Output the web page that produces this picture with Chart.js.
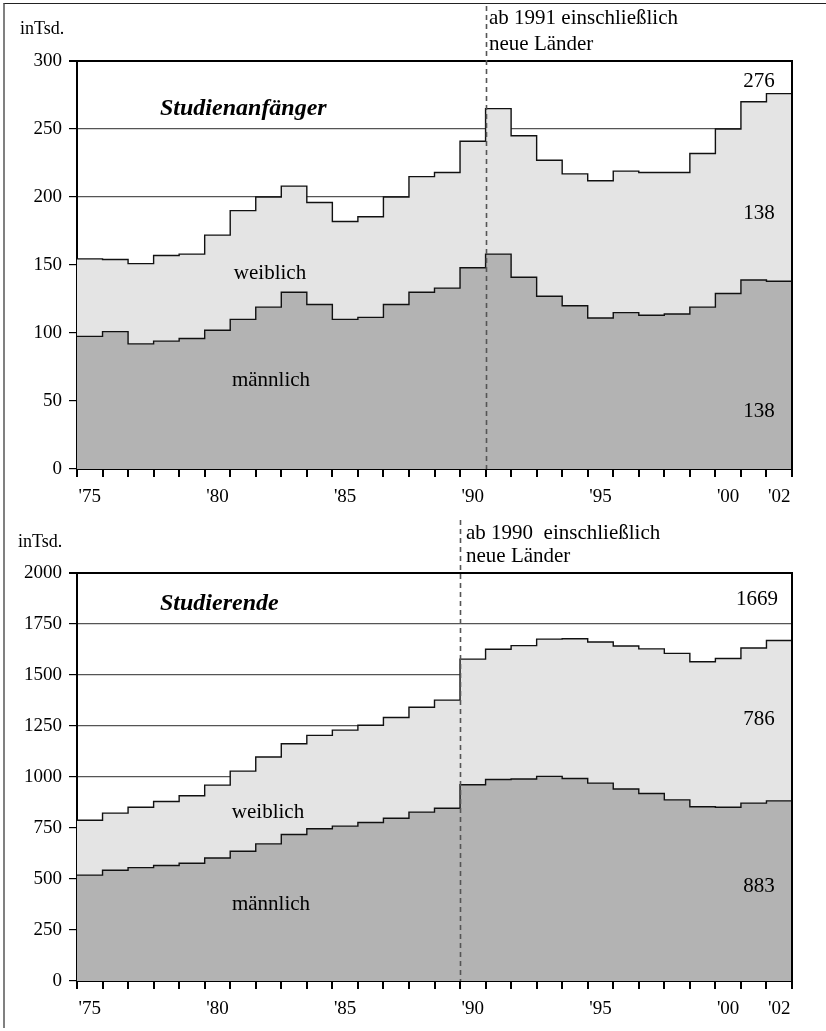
<!DOCTYPE html>
<html>
<head>
<meta charset="utf-8">
<script src="https://cdn.jsdelivr.net/npm/chart.js@4"></script>
<style>
  html, body { margin: 0; padding: 0; background: #fff; }
  #page { position: relative; width: 826px; height: 1031px; overflow: hidden; background: #fff;
          font-family: 'Liberation Serif', 'Times New Roman', 'DejaVu Serif', serif; color: #000; }
  .panel { position: absolute; left: 0; width: 826px; }
  .t { position: absolute; white-space: pre; line-height: 1; }
  #frame { position: absolute; left: 3px; top: 3px; width: 830px; height: 1024px;
           border-left: 2px solid #808080; border-top: 1px solid #222; pointer-events: none; }
</style>
</head>
<body>
<div id="page">
  <div class="panel" style="top:0;height:515px"><canvas id="c1"></canvas></div>
  <div class="panel" style="top:515px;height:516px"><canvas id="c2"></canvas></div>
  <div id="frame"></div>
</div>
<script>
// ---------- data ----------
const years = [1975,1976,1977,1978,1979,1980,1981,1982,1983,1984,1985,1986,1987,1988,1989,
               1990,1991,1992,1993,1994,1995,1996,1997,1998,1999,2000,2001,2002];
const xTickLabels = ["'75","","","","","'80","","","","","'85","","","","","'90","","","","","'95","","","","","'00","","'02"];

// Studienanfänger (in Tsd.)
const anfaengerMaennlich = [97.5,101,92,94,96,102,110,119,130,121,110,111.5,121,130,133,148,158,141,127,120,111,115,113,114,119,129,139,138];
const anfaengerWeiblich  = [57,53,59,63,62,70,80,81,78,75,72,74,79,85,85,93,107,104,100,97,101,104,105,104,113,121,131,138];
const yTicksAnfaenger = [0,50,100,150,200,250,300];

// Studierende (in Tsd.)
const studMaennlich = [519,543,556,566,577,603,636,672,718,746,759,777,798,828,847,962,988,990,1003,993,970,941,919,888,854,852,872,883];
const studWeiblich  = [269,280,296,314,331,357,393,426,445,458,471,477,494,514,530,616,638,654,673,685,692,701,709,718,711,729,760,786];
const yTicksStud = [0,250,500,750,1000,1250,1500,1750,2000];

// ---------- helpers ----------
const FONT = "'Liberation Serif', 'Times New Roman', 'DejaVu Serif', serif";

function stepPoints(vals) {
  const pts = years.map((y, i) => ({ x: y, y: vals[i] }));
  pts.push({ x: years[years.length - 1] + 1, y: vals[vals.length - 1] });
  return pts;
}

const framePlugin = {
  id: 'frameDeco',
  afterDatasetsDraw(chart, args, opts) {
    const { ctx, chartArea, scales } = chart;
    ctx.save();
    // right border of plot box
    ctx.strokeStyle = '#000';
    ctx.lineWidth = 2;
    ctx.beginPath();
    ctx.moveTo(chartArea.right, chartArea.top - 1);
    ctx.lineTo(chartArea.right, chartArea.bottom + 8);
    ctx.stroke();
    // dashed separator (new Länder)
    const x = Math.round(scales.x.getPixelForValue(opts.splitYear)) + 0.5;
    ctx.strokeStyle = '#555';
    ctx.lineWidth = 1.6;
    ctx.setLineDash([5, 4]);
    ctx.beginPath();
    ctx.moveTo(x, opts.dashTop);
    ctx.lineTo(x, chartArea.bottom);
    ctx.stroke();
    ctx.restore();
  }
};

function makeChart(id, male, female, yTicks, splitYear, pad, dashTop) {
  const yMax = yTicks[yTicks.length - 1];
  return new Chart(document.getElementById(id), {
    type: 'line',
    data: {
      datasets: [
        { label: 'männlich', data: stepPoints(male), stepped: true, fill: 'origin',
          backgroundColor: '#b3b3b3', borderColor: '#111', borderWidth: 1.4,
          pointRadius: 0, xAxisID: 'x', yAxisID: 'y' },
        { label: 'weiblich', data: stepPoints(female), stepped: true, fill: '-1',
          backgroundColor: '#e4e4e4', borderColor: '#111', borderWidth: 1.4,
          pointRadius: 0, xAxisID: 'x', yAxisID: 'y' }
      ]
    },
    plugins: [framePlugin],
    options: {
      responsive: true,
      maintainAspectRatio: false,
      devicePixelRatio: 1,
      animation: false,
      layout: { padding: pad },
      plugins: {
        legend: { display: false },
        tooltip: { enabled: false },
        frameDeco: { splitYear: splitYear, dashTop: dashTop }
      },
      scales: {
        x: {
          type: 'linear', position: 'bottom', weight: 0,
          min: years[0], max: years[years.length - 1] + 1,
          afterBuildTicks: s => {
            s.ticks = years.map(v => ({ value: v })).concat([{ value: years[years.length - 1] + 1 }]);
          },
          afterFit: s => { s.height = 8; },
          ticks: { display: false },
          grid: { drawOnChartArea: false, drawTicks: true, tickLength: 8, color: '#000', lineWidth: 2 },
          border: { display: true, color: '#000', width: 2 }
        },
        xc: {
          type: 'category', position: 'bottom', weight: 1,
          labels: xTickLabels, offset: true,
          afterFit: s => { s.height = 30; },
          grid: { display: false, drawTicks: false },
          border: { display: false },
          ticks: { autoSkip: false, maxRotation: 0, minRotation: 0, padding: 9,
                   color: '#000', font: { family: FONT, size: 19 } }
        },
        y: {
          type: 'linear', stacked: true, min: 0, max: yMax,
          afterBuildTicks: s => { s.ticks = yTicks.map(v => ({ value: v })); },
          afterFit: s => { s.width = 77; },
          ticks: { color: '#000', padding: 7, font: { family: FONT, size: 19 },
                   callback: v => String(v) },
          grid: {
            color: c => (c.tick && c.tick.value === yMax) ? '#000' : '#555',
            lineWidth: c => (c.tick && c.tick.value === yMax) ? 2 : 1.2,
            tickColor: '#000', tickLength: 8, drawTicks: true
          },
          border: { display: true, color: '#000', width: 2 }
        }
      }
    }
  });
}

makeChart('c1', anfaengerMaennlich, anfaengerWeiblich, yTicksAnfaenger, 1991,
          { top: 61, right: 34, left: 0, bottom: 8 }, 6);
makeChart('c2', studMaennlich, studWeiblich, yTicksStud, 1990,
          { top: 58, right: 34, left: 0, bottom: 12 }, 5);

// ---------- text annotations ----------
const page = document.getElementById('page');
function txt(s, x, yc, size, align, extra) {
  const d = document.createElement('div');
  d.className = 't';
  d.textContent = s;
  d.style.fontSize = size + 'px';
  d.style.left = x + 'px';
  d.style.top = yc + 'px';
  d.style.transform = align === 'center' ? 'translate(-50%,-50%)' : 'translate(0,-50%)';
  if (extra) Object.assign(d.style, extra);
  page.appendChild(d);
}
const bi = { fontWeight: 'bold', fontStyle: 'italic' };

// top panel
txt('inTsd.', 20, 28, 18, 'left');
txt('Studienanfänger', 160, 107, 24, 'left', bi);
txt('ab 1991 einschließlich', 489, 17, 21, 'left');
txt('neue Länder', 489, 43, 21, 'left');
txt('276', 759, 80, 21, 'center');
txt('138', 759, 212, 21, 'center');
txt('weiblich', 270, 272, 21, 'center');
txt('männlich', 271, 379, 21, 'center');
txt('138', 759, 410, 21, 'center');

// bottom panel
txt('inTsd.', 18, 541, 18, 'left');
txt('Studierende', 160, 602, 24, 'left', bi);
txt('ab 1990  einschließlich', 466, 532, 21, 'left');
txt('neue Länder', 466, 555, 21, 'left');
txt('1669', 757, 598, 21, 'center');
txt('786', 759, 718, 21, 'center');
txt('weiblich', 268, 811, 21, 'center');
txt('männlich', 271, 903, 21, 'center');
txt('883', 759, 885, 21, 'center');
</script>
</body>
</html>
